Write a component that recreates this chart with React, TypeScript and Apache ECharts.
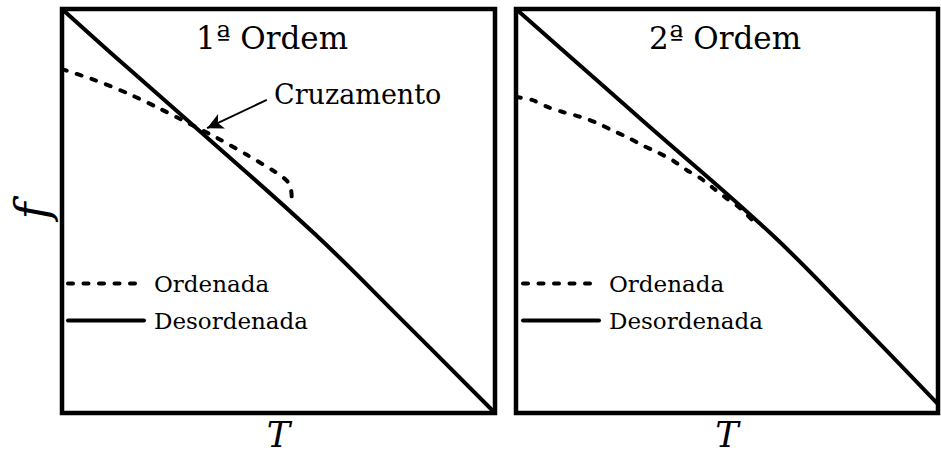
import React, { useEffect, useRef } from "react";
import * as echarts from "echarts";

// Temperature (T) and free energy (f) in normalised units, one panel per transition order.
const tFirstOrdered = [0, 0.076, 0.15, 0.219, 0.291, 0.358, 0.427, 0.492, 0.52, 0.529, 0.531];
const fFirstOrdered = [0.851, 0.824, 0.792, 0.757, 0.718, 0.681, 0.639, 0.597, 0.574, 0.552, 0.52];
const tFirstDisordered = [0, 0.134, 0.323, 0.584, 0.781, 1.0];
const fFirstDisordered = [1.0, 0.871, 0.693, 0.443, 0.235, 0.0];

const tSecondOrdered = [0, 0.038, 0.076, 0.111, 0.152, 0.192, 0.227, 0.263, 0.299, 0.334, 0.37, 0.405, 0.436, 0.467, 0.498, 0.531, 0.562];
const fSecondOrdered = [0.782, 0.775, 0.757, 0.745, 0.733, 0.718, 0.7, 0.683, 0.663, 0.646, 0.626, 0.601, 0.582, 0.557, 0.532, 0.507, 0.475];
const tSecondDisordered = [0, 0.199, 0.301, 0.602, 0.803, 1.0];
const fSecondDisordered = [1.0, 0.817, 0.723, 0.446, 0.235, 0.022];

// Arrow pointing at the crossing of the two first-order curves: [T, f] tail and head.
const crossingArrowTail = [0.473, 0.775];
const crossingArrowHead = [0.335, 0.705];

const panelTitles = ["1ª Ordem", "2ª Ordem"];
const seriesNames = ["Ordenada", "Desordenada"];
const crossingText = "Cruzamento";
const xName = "T";
const yName = "f";

const FONT = "DejaVu Serif";

function zip(xs: number[], ys: number[]) {
  return xs.map((x, i) => [x, ys[i]]);
}

export default function App() {
  const ref = useRef<HTMLDivElement>(null);

  useEffect(() => {
    if (!ref.current) return;
    const chart = echarts.init(ref.current, null, { renderer: "svg" });

    const dashed = { color: "#000", width: 4, type: [5, 10.5] as number[], cap: "round" as const };
    const solid = { color: "#000", width: 4, type: "solid" as const, cap: "round" as const };

    const axisCommon = {
      type: "value" as const,
      min: 0,
      max: 1,
      axisLine: { show: false },
      axisTick: { show: false },
      axisLabel: { show: false },
      splitLine: { show: false },
    };
    const xNameStyle = { fontFamily: FONT, fontStyle: "italic" as const, fontSize: 35, lineHeight: 35, color: "#000" };
    const yNameStyle = { fontFamily: FONT, fontStyle: "italic" as const, fontSize: 46, color: "#000" };

    const legendCommon = {
      orient: "vertical" as const,
      padding: 0,
      itemWidth: 76,
      itemHeight: 23,
      itemGap: 14,
      top: 272,
      data: seriesNames,
      selectedMode: false,
      lineStyle: { width: 4 },
      itemStyle: { color: "rgba(0,0,0,0)", borderWidth: 0 },
      textStyle: { fontFamily: FONT, fontSize: 23, color: "#000", padding: [0, 0, 0, 5] },
    };

    const gridCommon = {
      show: true,
      borderColor: "#000",
      borderWidth: 4.5,
      containLabel: false,
      outerBoundsMode: "none",
    };

    const titleFont = `31px "${FONT}"`;

    chart.setOption({
      animation: false,
      backgroundColor: "#fff",
      grid: [
        { ...gridCommon, left: 62, top: 9, width: 433, height: 404 },
        { ...gridCommon, left: 516, top: 9, width: 422, height: 404 },
      ],
      xAxis: [
        { ...axisCommon, gridIndex: 0, name: xName, nameLocation: "middle", nameGap: 4, nameTextStyle: xNameStyle },
        { ...axisCommon, gridIndex: 1, name: xName, nameLocation: "middle", nameGap: 4, nameTextStyle: xNameStyle },
      ],
      yAxis: [
        { ...axisCommon, gridIndex: 0, name: yName, nameLocation: "middle", nameGap: 7, nameTextStyle: yNameStyle },
        { ...axisCommon, gridIndex: 1 },
      ],
      legend: [
        { ...legendCommon, left: 66 },
        { ...legendCommon, left: 521 },
      ],
      series: [
        {
          name: seriesNames[0],
          type: "line",
          xAxisIndex: 0,
          yAxisIndex: 0,
          symbol: "none",
          smooth: 0.25,
          lineStyle: dashed,
          data: zip(tFirstOrdered, fFirstOrdered),
        },
        {
          name: seriesNames[1],
          type: "line",
          xAxisIndex: 0,
          yAxisIndex: 0,
          symbol: "none",
          smooth: 0.4,
          lineStyle: solid,
          data: zip(tFirstDisordered, fFirstDisordered),
          markLine: {
            silent: true,
            symbol: ["none", "arrow"],
            symbolSize: [12, 16],
            label: { show: false },
            lineStyle: { color: "#000", width: 2, type: "solid" },
            data: [[{ coord: crossingArrowTail }, { coord: crossingArrowHead }]],
          },
        },
        {
          name: seriesNames[0],
          type: "line",
          xAxisIndex: 1,
          yAxisIndex: 1,
          symbol: "none",
          smooth: 0.3,
          lineStyle: dashed,
          data: zip(tSecondOrdered, fSecondOrdered),
        },
        {
          name: seriesNames[1],
          type: "line",
          xAxisIndex: 1,
          yAxisIndex: 1,
          symbol: "none",
          smooth: 0.4,
          lineStyle: solid,
          data: zip(tSecondDisordered, fSecondDisordered),
        },
      ],
      graphic: [
        {
          type: "text",
          x: 272,
          y: 38,
          style: { text: panelTitles[0], font: titleFont, fill: "#000", align: "center", verticalAlign: "middle" },
        },
        {
          type: "text",
          x: 725,
          y: 38,
          style: { text: panelTitles[1], font: titleFont, fill: "#000", align: "center", verticalAlign: "middle" },
        },
        {
          type: "text",
          x: 274,
          y: 94,
          style: { text: crossingText, font: `27px "${FONT}"`, fill: "#000", align: "left", verticalAlign: "middle" },
        },
      ],
    });

    return () => chart.dispose();
  }, []);

  return <div ref={ref} style={{ position: "absolute", left: 0, top: 0, width: 941, height: 457 }} />;
}
